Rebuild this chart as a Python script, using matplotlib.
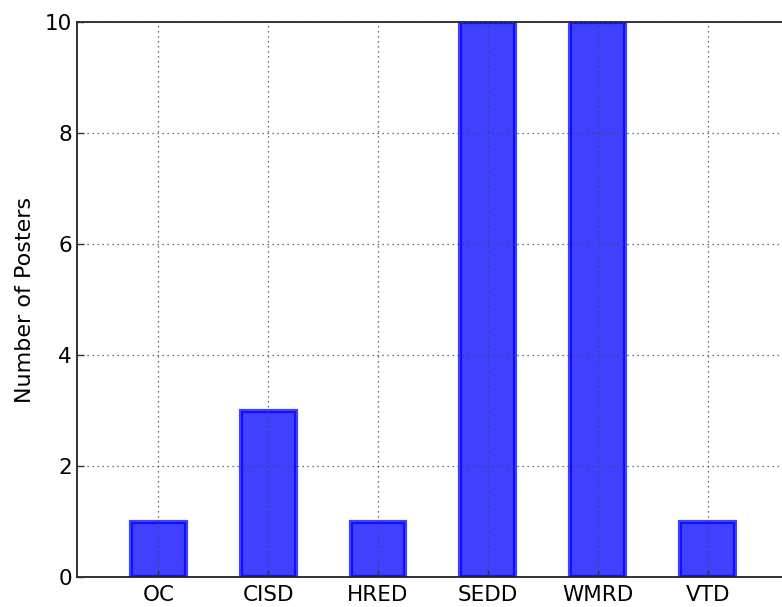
import matplotlib
matplotlib.use("Agg")
import matplotlib.pyplot as plt

divisions = ["OC", "CISD", "HRED", "SEDD", "WMRD", "VTD"]
posters = [1, 3, 1, 10, 10, 1]

W, H = 782, 607
fig = plt.figure(figsize=(W / 100, H / 100), dpi=100)
# axes runs slightly past the right edge of the canvas
ax = fig.add_axes([77 / W, 30 / H, (790 - 77) / W, (577 - 22) / H])

pos = list(range(len(divisions)))
ax.bar(pos, posters, width=0.5, color="blue", alpha=0.75,
       edgecolor="blue", linewidth=3, zorder=2)

ax.set_xlim(-0.74, 5.75)
ax.set_ylim(0, 10)
ax.set_xticks(pos)
ax.set_xticklabels(divisions, fontsize=15.5)
ax.set_yticks(range(0, 11, 2))
ax.tick_params(axis="y", labelsize=15.5)
ax.tick_params(direction="in", length=5, width=1, color="#333333")
ax.tick_params(axis="x", pad=6)
ax.set_ylabel("Number of Posters", fontsize=16, labelpad=7)
ax.grid(True, linestyle=(0, (1, 3)), color="#444444", linewidth=0.9, zorder=3)
ax.set_axisbelow(False)
for s in ax.spines.values():
    s.set_linewidth(1.3)
    s.set_color("#222222")

plt.savefig("out.png", dpi=100)
